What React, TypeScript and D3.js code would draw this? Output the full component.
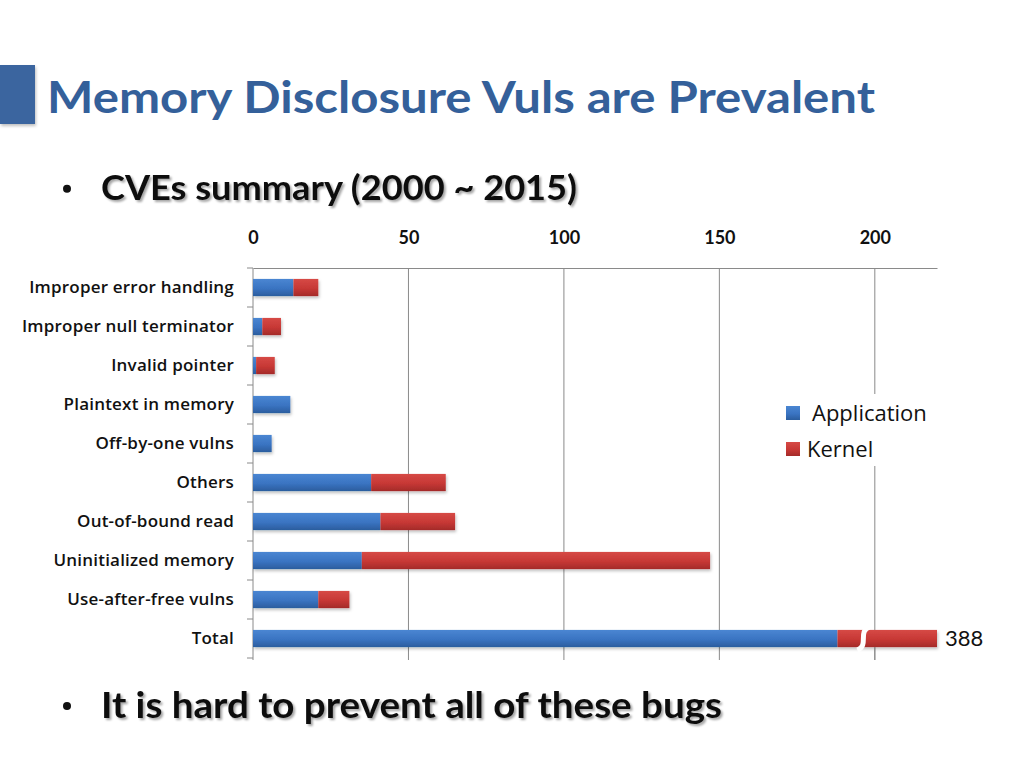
import * as d3 from "d3"
import { useEffect, useRef } from "react"

const categories = [
  "Improper error handling",
  "Improper null terminator",
  "Invalid pointer",
  "Plaintext in memory",
  "Off-by-one vulns",
  "Others",
  "Out-of-bound read",
  "Uninitialized memory",
  "Use-after-free vulns",
  "Total",
]
const application = [13, 3, 1, 12, 6, 38, 41, 35, 21, 188]
const kernel = [8, 6, 6, 0, 0, 24, 24, 112, 10, 200]
const xTicks = [0, 50, 100, 150, 200]
const seriesNames = ["Application", "Kernel"]
const totalLabel = "388"

const FONT = "Lato, 'Open Sans', sans-serif"
const LABEL_FONT = "'Open Sans', Lato, sans-serif"

const App = () => {
  const svgRef = useRef<SVGSVGElement | null>(null)

  useEffect(() => {
    if (!svgRef.current) return
    const svg = d3.select(svgRef.current)
    svg.selectAll("*").remove()

    const left = 253
    const right = 937
    const top = 268
    const bottom = 658

    const x = d3.scaleLinear().domain([0, 220]).range([left, right])
    const y = d3
      .scaleBand()
      .domain(categories)
      .range([top, bottom])
      .paddingInner(0.56)
      .paddingOuter(0.28)

    const defs = svg.append("defs")
    const grad = (id: string, c1: string, c2: string, c3: string) => {
      const g = defs
        .append("linearGradient")
        .attr("id", id)
        .attr("x1", "0%")
        .attr("y1", "0%")
        .attr("x2", "0%")
        .attr("y2", "100%")
      g.append("stop").attr("offset", "0%").attr("stop-color", c1)
      g.append("stop").attr("offset", "55%").attr("stop-color", c2)
      g.append("stop").attr("offset", "100%").attr("stop-color", c3)
    }
    grad("blueGrad", "#4a86d2", "#3a74c2", "#2b5d9e")
    grad("redGrad", "#d64a46", "#c73835", "#a42b29")

    const shadow = defs.append("filter").attr("id", "txtShadow")
    shadow
      .append("feDropShadow")
      .attr("dx", 2)
      .attr("dy", 2)
      .attr("stdDeviation", 1.2)
      .attr("flood-color", "#000")
      .attr("flood-opacity", 0.35)
    const barShadow = defs.append("filter").attr("id", "barShadow")
    barShadow
      .append("feDropShadow")
      .attr("dx", 1)
      .attr("dy", 2)
      .attr("stdDeviation", 1.5)
      .attr("flood-color", "#000")
      .attr("flood-opacity", 0.25)

    // header block and title
    svg
      .append("rect")
      .attr("x", 0)
      .attr("y", 65)
      .attr("width", 35)
      .attr("height", 59)
      .attr("fill", "#3b659f")
      .attr("filter", "url(#barShadow)")
    svg
      .append("text")
      .attr("x", 47)
      .attr("y", 113)
      .attr("font-family", FONT)
      .attr("font-weight", 700)
      .attr("font-size", 44)
      .attr("fill", "#34609a")
      .attr("textLength", 828)
      .attr("lengthAdjust", "spacingAndGlyphs")
      .text("Memory Disclosure Vuls are Prevalent")

    // bullets
    const bullet = (yy: number, text: string, len: number, size: number) => {
      svg
        .append("circle")
        .attr("cx", 67)
        .attr("cy", yy - size * 0.33)
        .attr("r", 4)
        .attr("fill", "#111")
      svg
        .append("text")
        .attr("x", 101)
        .attr("y", yy)
        .attr("font-family", FONT)
        .attr("font-weight", 700)
        .attr("font-size", size)
        .attr("fill", "#111")
        .attr("filter", "url(#txtShadow)")
        .attr("textLength", len)
        .attr("lengthAdjust", "spacingAndGlyphs")
        .text(text)
    }
    bullet(200, "CVEs summary (2000 ~ 2015)", 476, 34)
    bullet(718, "It is hard to prevent all of these bugs", 621, 36)

    // gridlines
    svg
      .append("g")
      .selectAll("line")
      .data(xTicks.slice(1))
      .join("line")
      .attr("x1", d => x(d))
      .attr("x2", d => x(d))
      .attr("y1", top)
      .attr("y2", bottom + 2)
      .attr("stroke", "#8a8a8a")
      .attr("stroke-width", 1)

    // top axis
    const xAxis = svg
      .append("g")
      .attr("transform", `translate(0,${top})`)
      .call(d3.axisTop(x).tickValues(xTicks).tickSize(0).tickPadding(24))
    xAxis.select(".domain").attr("stroke", "#8a8a8a")
    xAxis
      .selectAll("text")
      .attr("font-family", FONT)
      .attr("font-weight", 700)
      .attr("font-size", 18)
      .attr("fill", "#111")

    // left axis, ticks at band boundaries
    const yAxis = svg.append("g")
    yAxis
      .append("line")
      .attr("x1", left)
      .attr("x2", left)
      .attr("y1", top)
      .attr("y2", bottom + 2)
      .attr("stroke", "#8a8a8a")
    const boundaries = d3
      .range(categories.length + 1)
      .map(i => top + (i * (bottom - top)) / categories.length)
    yAxis
      .selectAll("line.tick")
      .data(boundaries)
      .join("line")
      .attr("class", "tick")
      .attr("x1", left - 6)
      .attr("x2", left)
      .attr("y1", d => d)
      .attr("y2", d => d)
      .attr("stroke", "#8a8a8a")
    yAxis
      .selectAll("text")
      .data(categories)
      .join("text")
      .attr("x", 234)
      .attr("y", d => (y(d) ?? 0) + y.bandwidth() / 2)
      .attr("dy", "0.35em")
      .attr("text-anchor", "end")
      .attr("font-family", LABEL_FONT)
      .attr("font-weight", 600)
      .attr("font-size", 17)
      .attr("letter-spacing", 0.2)
      .attr("fill", "#111")
      .text(d => d)

    // bars
    const rows = categories.map((c, i) => ({ c, app: application[i], ker: kernel[i] }))
    const bars = svg.append("g").attr("filter", "url(#barShadow)")
    bars
      .selectAll("rect.app")
      .data(rows)
      .join("rect")
      .attr("class", "app")
      .attr("x", x(0))
      .attr("y", d => y(d.c) ?? 0)
      .attr("width", d => Math.min(x(d.app), right) - x(0))
      .attr("height", y.bandwidth())
      .attr("fill", "url(#blueGrad)")
    bars
      .selectAll("rect.ker")
      .data(rows.filter(d => d.ker > 0))
      .join("rect")
      .attr("class", "ker")
      .attr("x", d => x(d.app))
      .attr("y", d => y(d.c) ?? 0)
      .attr("width", d => Math.min(x(d.app + d.ker), right) - x(d.app))
      .attr("height", y.bandwidth())
      .attr("fill", "url(#redGrad)")

    // axis break on the total bar
    const tb = y("Total") ?? 0
    const bx = x(196)
    const h = y.bandwidth()
    svg
      .append("path")
      .attr(
        "d",
        `M${bx + 7},${tb - 3} C${bx - 5},${tb + 2} ${bx + 7},${tb + h - 2} ${bx - 5},${tb + h + 3}`
      )
      .attr("fill", "none")
      .attr("stroke", "#fff")
      .attr("stroke-width", 5)
    svg
      .append("line")
      .attr("x1", x(200))
      .attr("x2", x(200))
      .attr("y1", tb + h)
      .attr("y2", bottom + 2)
      .attr("stroke", "#8a8a8a")
    svg
      .append("text")
      .attr("x", right + 8)
      .attr("y", tb + h / 2)
      .attr("dy", "0.35em")
      .attr("font-family", FONT)
      .attr("font-size", 22)
      .attr("fill", "#111")
      .text(totalLabel)

    // legend
    const legend = svg.append("g")
    legend
      .append("rect")
      .attr("x", 780)
      .attr("y", 394)
      .attr("width", 160)
      .attr("height", 72)
      .attr("fill", "#fff")
    const colors = ["url(#blueGrad)", "url(#redGrad)"]
    seriesNames.forEach((s, i) => {
      const ly = 413 + i * 36
      legend
        .append("rect")
        .attr("x", 786)
        .attr("y", ly - 7)
        .attr("width", 14)
        .attr("height", 14)
        .attr("fill", colors[i])
      legend
        .append("text")
        .attr("x", i === 0 ? 812 : 807)
        .attr("y", ly)
        .attr("dy", "0.35em")
        .attr("font-family", LABEL_FONT)
        .attr("font-size", 22)
        .attr("fill", "#111")
        .text(s)
    })
  }, [])

  return (
    <svg
      ref={svgRef}
      width={1024}
      height={768}
      style={{ position: "absolute", left: 0, top: 0, background: "#fff" }}
    />
  )
}

export default App
